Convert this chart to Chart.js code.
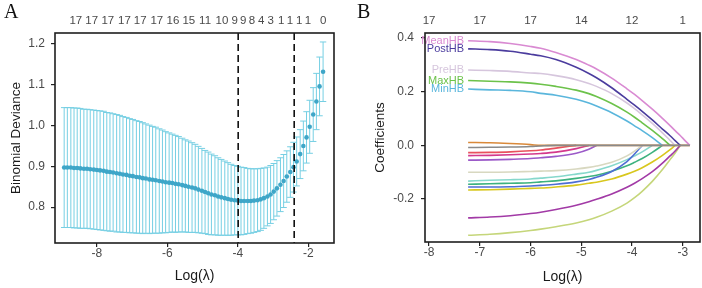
<!DOCTYPE html>
<html><head><meta charset="utf-8">
<script src="https://cdn.jsdelivr.net/npm/chart.js@4.4.0/dist/chart.umd.min.js"></script>
<style>
html,body{margin:0;padding:0;background:#fff;width:702px;height:288px;overflow:hidden}
canvas{position:absolute;top:0}
.lab{position:absolute;font-family:'Liberation Serif','Times New Roman',serif;font-size:20px;line-height:20px;color:#111}
</style></head><body>
<canvas id="ca" width="350" height="288" style="left:0"></canvas>
<canvas id="cb" width="352" height="288" style="left:350px"></canvas>
<div class="lab" style="left:4px;top:1px">A</div>
<div class="lab" style="left:357px;top:1px">B</div>
<script>
// ---------- Panel A data (cross-validation) ----------
const logLambdaA = [-8.93,-8.84,-8.74,-8.65,-8.56,-8.47,-8.37,-8.28,-8.19,-8.09,-8.00,-7.91,-7.81,-7.72,-7.63,-7.54,-7.44,-7.35,-7.26,-7.16,
-7.07,-6.98,-6.88,-6.79,-6.70,-6.61,-6.51,-6.42,-6.33,-6.23,-6.14,-6.05,-5.95,-5.86,-5.77,-5.68,-5.58,-5.49,-5.40,-5.30,
-5.21,-5.12,-5.02,-4.93,-4.84,-4.75,-4.65,-4.56,-4.47,-4.37,-4.28,-4.19,-4.09,-4.00,-3.91,-3.82,-3.72,-3.63,-3.54,-3.44,
-3.35,-3.26,-3.16,-3.07,-2.98,-2.89,-2.79,-2.70,-2.61,-2.51,-2.42,-2.33,-2.23,-2.14,-2.05,-1.96,-1.86,-1.77,-1.68,-1.58];
const cvMean = [0.897,0.897,0.897,0.896,0.896,0.895,0.894,0.894,0.893,0.892,0.891,0.890,0.889,0.887,0.886,0.885,0.883,0.882,0.880,0.879,
0.877,0.876,0.874,0.873,0.871,0.870,0.868,0.867,0.866,0.864,0.863,0.861,0.860,0.859,0.857,0.856,0.854,0.852,0.850,0.848,
0.846,0.843,0.840,0.837,0.834,0.831,0.829,0.826,0.824,0.822,0.820,0.818,0.817,0.816,0.815,0.815,0.815,0.815,0.816,0.817,
0.819,0.822,0.826,0.831,0.838,0.846,0.855,0.864,0.875,0.886,0.898,0.912,0.930,0.950,0.971,0.997,1.027,1.059,1.096,1.132];
const cvSd = [0.147,0.147,0.147,0.147,0.147,0.147,0.146,0.146,0.146,0.146,0.146,0.146,0.146,0.145,0.145,0.144,0.144,0.143,0.142,0.141,
0.140,0.139,0.138,0.137,0.136,0.134,0.133,0.131,0.130,0.128,0.126,0.124,0.122,0.120,0.119,0.117,0.115,0.113,0.112,0.110,
0.108,0.106,0.104,0.102,0.101,0.099,0.097,0.095,0.093,0.091,0.089,0.087,0.085,0.084,0.083,0.082,0.080,0.079,0.078,0.077,
0.076,0.074,0.072,0.071,0.069,0.068,0.066,0.065,0.063,0.062,0.061,0.060,0.060,0.061,0.063,0.065,0.066,0.069,0.072,0.073];
const lambdaMinLog = -3.99;
const lambda1seLog = -2.40;
const xTicksA = [-8,-6,-4,-2];
const yTicksA = [0.8,0.9,1.0,1.1,1.2];
const topPosA = [-8.60,-8.15,-7.69,-7.22,-6.77,-6.30,-5.84,-5.39,-4.93,-4.45,-4.09,-3.85,-3.60,-3.34,-3.07,-2.77,-2.52,-2.26,-2.01,-1.58];
const topLabelsA = ['17','17','17','17','17','17','16','15','11','10','9','9','8','4','3','1','1','1','1','0'];

// ---------- Panel B data (coefficient paths; each path listed until it reaches zero) ----------
const logLambdaB = [-7.23,-6.8,-6.4,-6.0,-5.8,-5.5,-5.1,-4.85,-4.7,-4.4,-4.1,-3.95,-3.8,-3.6,-3.4,-3.25,-3.15,-3.05,-2.95,-2.86];
const meanHB = [0.390,0.387,0.380,0.369,0.362,0.346,0.320,0.299,0.285,0.251,0.211,0.190,0.167,0.135,0.101,0.074,0.055,0.037,0.017,0];
const postHB = [0.360,0.357,0.351,0.340,0.334,0.320,0.291,0.268,0.252,0.215,0.172,0.150,0.127,0.095,0.061,0.036,0.018,0];
const preHB  = [0.281,0.279,0.276,0.270,0.268,0.260,0.245,0.231,0.220,0.193,0.158,0.137,0.114,0.082,0.047,0.019,0];
const maxHB  = [0.242,0.239,0.237,0.232,0.228,0.220,0.206,0.193,0.182,0.156,0.124,0.105,0.084,0.056,0.025,0];
const minHB  = [0.210,0.207,0.205,0.200,0.194,0.187,0.172,0.158,0.147,0.122,0.091,0.073,0.055,0.029,0];
const var06 = [0.011,0.010,0.007,0.003,0,0,0,0,0,0,0,0,0,0,0,0,0,0,0,0];
const var07 = [-0.008,-0.007,-0.006,-0.004,-0.002,0,0,0,0,0,0,0,0,0,0,0,0,0,0,0];
const var08 = [-0.027,-0.026,-0.024,-0.020,-0.017,-0.010,0];
const var09 = [-0.038,-0.037,-0.035,-0.032,-0.030,-0.025,-0.012,0];
const var10 = [-0.055,-0.054,-0.052,-0.049,-0.046,-0.041,-0.029,-0.014,0];
const var11 = [-0.100,-0.100,-0.099,-0.097,-0.096,-0.094,-0.088,-0.082,-0.077,-0.063,-0.039,-0.021,0];
const var12 = [-0.155,-0.155,-0.154,-0.151,-0.149,-0.145,-0.136,-0.127,-0.119,-0.097,-0.060,-0.032,0];
const var13 = [-0.133,-0.130,-0.128,-0.125,-0.122,-0.117,-0.107,-0.100,-0.093,-0.076,-0.053,-0.039,-0.024,0];
const var14 = [-0.145,-0.143,-0.141,-0.139,-0.136,-0.132,-0.123,-0.116,-0.111,-0.096,-0.076,-0.063,-0.049,-0.026,0];
const var15 = [-0.166,-0.165,-0.163,-0.160,-0.159,-0.155,-0.148,-0.141,-0.137,-0.125,-0.107,-0.096,-0.083,-0.062,-0.037,-0.016,0];
const var16 = [-0.270,-0.267,-0.262,-0.254,-0.249,-0.239,-0.223,-0.210,-0.201,-0.181,-0.156,-0.141,-0.124,-0.098,-0.066,-0.039,-0.021,0];
const var17 = [-0.335,-0.331,-0.325,-0.317,-0.312,-0.303,-0.289,-0.277,-0.268,-0.245,-0.215,-0.195,-0.171,-0.134,-0.090,-0.053,-0.028,0];
const pathNames = ['MeanHB','PostHB','PreHB','MaxHB','MinHB','','','','','','','','','','','',''];
const pathColors = ['#d98ad2','#4b3c9e','#d6c6dd','#6cc24a','#5ab6dc','#d9893a','#8a8a8a','#e8505e','#d4388c','#9b59c8',
                    '#d8d8c0','#4e6ed4','#86d8cc','#3db27f','#d8c71e','#a23aa6','#c5d67a'];
const xTicksB = [-8,-7,-6,-5,-4,-3];
const yTicksB = [-0.2,0.0,0.2,0.4];
const topPosB = [-8,-7,-6,-5,-4,-3];
const topLabelsB = ['17','17','17','14','12','1'];

const pathSeries = [meanHB,postHB,preHB,maxHB,minHB,var06,var07,var08,var09,var10,var11,var12,var13,var14,var15,var16,var17];

// ---------- shared styling ----------
Chart.defaults.font.family = "'Liberation Sans', Arial, sans-serif";
const tickColor = '#4a4a4a';
const titleColor = '#1a1a1a';
const setTicks = arr => s => { s.ticks = arr.map(v => ({value: v})); };

const boxPlugin = {
  id: 'box',
  afterDraw(chart) {
    const {ctx, chartArea: a} = chart;
    ctx.save();
    ctx.strokeStyle = '#1e1e1e';
    ctx.lineWidth = 1.6;
    ctx.strokeRect(a.left, a.top, a.right - a.left, a.bottom - a.top);
    ctx.restore();
  }
};

const errorBarPlugin = {
  id: 'errorBars',
  beforeDatasetsDraw(chart) {
    const {ctx, chartArea: a, scales: {x, y}} = chart;
    ctx.save();
    ctx.beginPath(); ctx.rect(a.left, a.top, a.right - a.left, a.bottom - a.top); ctx.clip();
    ctx.strokeStyle = '#76cfe3';
    ctx.lineWidth = 1;
    const cap = 3.2;
    logLambdaA.forEach((v, i) => {
      const px = x.getPixelForValue(v);
      const hi = y.getPixelForValue(cvMean[i] + cvSd[i]);
      const lo = y.getPixelForValue(cvMean[i] - cvSd[i]);
      ctx.beginPath();
      ctx.moveTo(px, hi); ctx.lineTo(px, lo);
      ctx.moveTo(px - cap, hi); ctx.lineTo(px + cap, hi);
      ctx.moveTo(px - cap, lo); ctx.lineTo(px + cap, lo);
      ctx.stroke();
    });
    ctx.restore();
  },
  afterDatasetsDraw(chart) {
    const {ctx, chartArea: a, scales: {x}} = chart;
    ctx.save();
    ctx.strokeStyle = '#111';
    ctx.lineWidth = 1.6;
    ctx.setLineDash([7, 4]);
    [lambdaMinLog, lambda1seLog].forEach(v => {
      const px = x.getPixelForValue(v);
      ctx.beginPath(); ctx.moveTo(px, a.top); ctx.lineTo(px, a.bottom); ctx.stroke();
    });
    ctx.restore();
  }
};

const pathLabelPlugin = {
  id: 'pathLabels',
  afterDatasetsDraw(chart) {
    const {ctx, scales: {x, y}} = chart;
    ctx.save();
    ctx.font = "11px 'Liberation Sans', Arial, sans-serif";
    ctx.textAlign = 'right';
    ctx.textBaseline = 'middle';
    pathNames.forEach((n, i) => {
      if (!n) return;
      ctx.fillStyle = pathColors[i];
      ctx.fillText(n, x.getPixelForValue(logLambdaB[0]) - 4, y.getPixelForValue(pathSeries[i][0]));
    });
    ctx.restore();
  }
};

function axisCommon(ticksArr, fmt, pad) {
  return {
    afterBuildTicks: setTicks(ticksArr),
    grid: {drawOnChartArea: false, drawTicks: true, tickLength: 4, color: '#222', lineWidth: 1.2},
    border: {display: false},
    ticks: {color: tickColor, font: {size: 12}, padding: pad, callback: fmt, autoSkip: false, maxRotation: 0, minRotation: 0}
  };
}
function topAxis(min, max, pos, labels) {
  return {
    type: 'linear', position: 'top', min, max,
    afterBuildTicks: setTicks(pos),
    afterFit: s => { s.height = 33; },
    grid: {display: false, drawTicks: false}, border: {display: false},
    ticks: {color: tickColor, font: {size: 11.5}, padding: 5, autoSkip: false, maxRotation: 0, minRotation: 0,
            callback: (v, i) => labels[i]}
  };
}

// ---------- Panel A ----------
new Chart(document.getElementById('ca'), {
  type: 'scatter',
  data: {datasets: [{
    data: logLambdaA.map((v, i) => ({x: v, y: cvMean[i]})),
    pointRadius: 2.3, pointBackgroundColor: '#3ea6c8', pointBorderWidth: 0, showLine: false
  }]},
  options: {
    responsive: false, animation: false, devicePixelRatio: 1,
    layout: {padding: {left: 0, right: 16, top: 0, bottom: 0}},
    plugins: {legend: {display: false}, tooltip: {enabled: false}},
    scales: {
      x: Object.assign(axisCommon(xTicksA, v => String(v), -1), {
        type: 'linear', position: 'bottom', min: -9.19, max: -1.27,
        afterFit: s => { s.height = 45; },
        title: {display: true, text: 'Log(λ)', color: titleColor, font: {size: 14}, padding: {top: 0, bottom: 3}}
      }),
      xTop: topAxis(-9.19, -1.27, topPosA, topLabelsA),
      y: Object.assign(axisCommon(yTicksA, v => v.toFixed(1), 6), {
        type: 'linear', position: 'left', min: 0.712, max: 1.227,
        afterFit: s => { s.width = 55; },
        title: {display: true, text: 'Binomial Deviance', color: titleColor, font: {size: 13.5}, padding: {top: 8.5, bottom: 0}}
      })
    }
  },
  plugins: [errorBarPlugin, boxPlugin]
});

// ---------- Panel B ----------
new Chart(document.getElementById('cb'), {
  type: 'scatter',
  data: {datasets: pathSeries.map((arr, i) => ({
    data: arr.map((v, j) => ({x: logLambdaB[j], y: v})),
    showLine: true, borderColor: pathColors[i], borderWidth: 1.6, pointRadius: 0,
    cubicInterpolationMode: 'monotone', fill: false, order: i === 6 ? 0 : 1
  }))},
  options: {
    responsive: false, animation: false, devicePixelRatio: 1,
    layout: {padding: {left: 0, right: 2, top: 0, bottom: 0}},
    plugins: {legend: {display: false}, tooltip: {enabled: false}},
    scales: {
      x: Object.assign(axisCommon(xTicksB, v => String(v), -1), {
        type: 'linear', position: 'bottom', min: -8.08, max: -2.66,
        afterFit: s => { s.height = 46; },
        title: {display: true, text: 'Log(λ)', color: titleColor, font: {size: 14}, padding: {top: 0, bottom: 2}}
      }),
      xTop: topAxis(-8.08, -2.66, topPosB, topLabelsB),
      y: Object.assign(axisCommon(yTicksB, v => v.toFixed(1), 7), {
        type: 'linear', position: 'left', min: -0.36, max: 0.419,
        afterFit: s => { s.width = 75; },
        title: {display: true, text: 'Coefficients', color: titleColor, font: {size: 13.5}, padding: {top: 22, bottom: 0}}
      })
    }
  },
  plugins: [pathLabelPlugin, boxPlugin]
});
</script>
</body></html>
